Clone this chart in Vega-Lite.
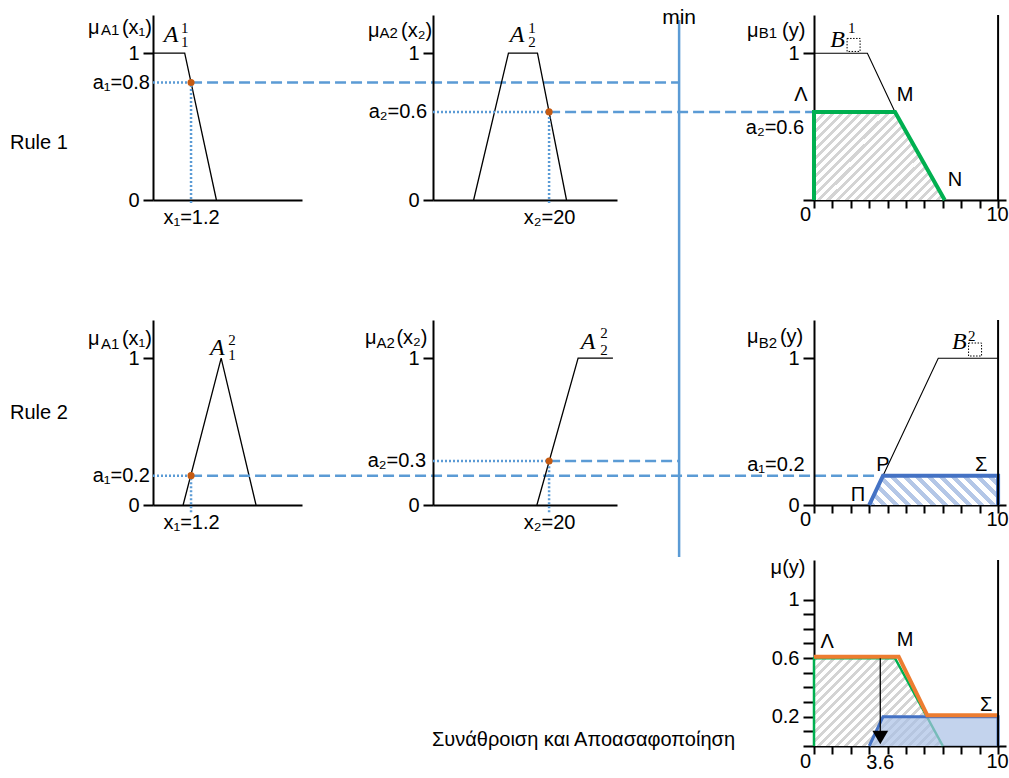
{
"$schema": "https://vega.github.io/schema/vega-lite/v6.json",
"padding": {"left": 10, "top": 6, "right": 0, "bottom": 0},
"config": {
  "view": {"stroke": null},
  "axis": {"grid": false, "domainColor": "black", "domainWidth": 2, "tickColor": "black", "tickWidth": 2, "labelColor": "black", "labelFont": "Liberation Sans", "labelFontSize": 20, "labelOverlap": false, "labelFlush": false, "labelBound": false}
},
"data": {"name": "d"},
"datasets": {"d": [
{"p":"r1a1","k":"mf","i":0,"x":0,"y":1},
{"p":"r1a1","k":"mf","i":1,"x":1.0,"y":1},
{"p":"r1a1","k":"mf","i":2,"x":2.0,"y":0},
{"p":"r1a1","k":"rule","s":"dot","x":0,"y":0.8,"x2":1.2,"y2":0.8},
{"p":"r1a1","k":"rule","s":"dot","x":1.2,"y":-0.02,"x2":1.2,"y2":0.8},
{"p":"r1a1","k":"rule","s":"dash","x":1.2,"y":0.8,"x2":16.6,"y2":0.8},
{"p":"r1a1","k":"pt","x":1.2,"y":0.8},
{"p":"r1a1","k":"txt","s":"L","t":"Rule 1","x":-4.51,"y":0.388},
{"p":"r1a1","k":"txt","s":"L","t":"μ","x":-2.05,"y":1.172},
{"p":"r1a1","k":"txt","s":"S","t":"A1","x":-1.64,"y":1.16},
{"p":"r1a1","k":"txt","s":"L","t":"(x₁)","x":-0.98,"y":1.172},
{"p":"r1a1","k":"txt","s":"R","t":"a₁=0.8","x":-0.095,"y":0.8},
{"p":"r1a1","k":"txt","s":"I","t":"A","x":0.57,"y":1.124},
{"p":"r1a1","k":"txt","s":"X","t":"1","x":0.88,"y":1.172},
{"p":"r1a1","k":"txt","s":"X","t":"1","x":0.88,"y":1.076},

{"p":"r1a2","k":"mf","i":0,"x":7,"y":0},
{"p":"r1a2","k":"mf","i":1,"x":13,"y":1},
{"p":"r1a2","k":"mf","i":2,"x":18,"y":1},
{"p":"r1a2","k":"mf","i":3,"x":23,"y":0},
{"p":"r1a2","k":"rule","s":"dot","x":0,"y":0.6,"x2":20,"y2":0.6},
{"p":"r1a2","k":"rule","s":"dot","x":20,"y":-0.02,"x2":20,"y2":0.6},
{"p":"r1a2","k":"rule","s":"dash","x":20,"y":0.6,"x2":65.6,"y2":0.6},
{"p":"r1a2","k":"rule","s":"min","x":42.4,"y":1.226,"x2":42.4,"y2":-2.432},
{"p":"r1a2","k":"pt","x":20,"y":0.6},
{"p":"r1a2","k":"txt","s":"L","t":"μ","x":-11.2,"y":1.151},
{"p":"r1a2","k":"txt","s":"S","t":"A2","x":-9.2,"y":1.139},
{"p":"r1a2","k":"txt","s":"L","t":"(x₂)","x":-5.5,"y":1.151},
{"p":"r1a2","k":"txt","s":"R","t":"a₂=0.6","x":-1.03,"y":0.6},
{"p":"r1a2","k":"txt","s":"I","t":"A","x":14.47,"y":1.124},
{"p":"r1a2","k":"txt","s":"X","t":"1","x":16.4,"y":1.172},
{"p":"r1a2","k":"txt","s":"X","t":"2","x":16.4,"y":1.076},
{"p":"r1a2","k":"txt","s":"C","t":"min","x":42.4,"y":1.24},

{"p":"r1b","k":"fill","s":"gray","x":0,"y":0.6},
{"p":"r1b","k":"fill","s":"gray","x":4.4,"y":0.6},
{"p":"r1b","k":"fill","s":"gray","x":7.1,"y":0},
{"p":"r1b","k":"mf","i":0,"x":0,"y":1},
{"p":"r1b","k":"mf","i":1,"x":2.9,"y":1},
{"p":"r1b","k":"mf","i":2,"x":4.4,"y":0.6},
{"p":"r1b","k":"cut","s":"green","i":0,"x":0,"y":0},
{"p":"r1b","k":"cut","s":"green","i":1,"x":0,"y":0.6},
{"p":"r1b","k":"cut","s":"green","i":2,"x":4.4,"y":0.6},
{"p":"r1b","k":"cut","s":"green","i":3,"x":7.1,"y":0},
{"p":"r1b","k":"edge","x":10,"y":0,"x2":10,"y2":1.26},
{"p":"r1b","k":"box","x":2.15,"y":1.056},
{"p":"r1b","k":"txt","s":"L","t":"μ","x":-3.64,"y":1.151},
{"p":"r1b","k":"txt","s":"S","t":"B1","x":-3.0,"y":1.139},
{"p":"r1b","k":"txt","s":"L","t":"(y)","x":-1.74,"y":1.151},
{"p":"r1b","k":"txt","s":"C","t":"a₂=0.6","x":-2.12,"y":0.49},
{"p":"r1b","k":"txt","s":"C","t":"Λ","x":-0.71,"y":0.715},
{"p":"r1b","k":"txt","s":"C","t":"M","x":4.95,"y":0.715},
{"p":"r1b","k":"txt","s":"C","t":"N","x":7.66,"y":0.136},
{"p":"r1b","k":"txt","s":"I","t":"B","x":1.28,"y":1.093},
{"p":"r1b","k":"txt","s":"X","t":"1","x":1.85,"y":1.17},

{"p":"r2a1","k":"mf","i":0,"x":0.95,"y":0},
{"p":"r2a1","k":"mf","i":1,"x":2.15,"y":1},
{"p":"r2a1","k":"mf","i":2,"x":3.25,"y":0},
{"p":"r2a1","k":"rule","s":"dot","x":0,"y":0.2,"x2":1.2,"y2":0.2},
{"p":"r2a1","k":"rule","s":"dot","x":1.2,"y":-0.05,"x2":1.2,"y2":0.2},
{"p":"r2a1","k":"rule","s":"dash","x":1.2,"y":0.2,"x2":22.84,"y2":0.2},
{"p":"r2a1","k":"pt","x":1.2,"y":0.2},
{"p":"r2a1","k":"txt","s":"L","t":"Rule 2","x":-4.51,"y":0.627},
{"p":"r2a1","k":"txt","s":"L","t":"μ","x":-2.05,"y":1.131},
{"p":"r2a1","k":"txt","s":"S","t":"A1","x":-1.64,"y":1.097},
{"p":"r2a1","k":"txt","s":"L","t":"(x₁)","x":-0.98,"y":1.131},
{"p":"r2a1","k":"txt","s":"R","t":"a₁=0.2","x":-0.095,"y":0.2},
{"p":"r2a1","k":"txt","s":"I","t":"A","x":2.03,"y":1.07},
{"p":"r2a1","k":"txt","s":"X","t":"2","x":2.37,"y":1.124},
{"p":"r2a1","k":"txt","s":"X","t":"1","x":2.37,"y":1.02},

{"p":"r2a2","k":"mf","i":0,"x":17.9,"y":0},
{"p":"r2a2","k":"mf","i":1,"x":25,"y":1},
{"p":"r2a2","k":"mf","i":2,"x":31,"y":1},
{"p":"r2a2","k":"rule","s":"dot","x":0,"y":0.3,"x2":20,"y2":0.3},
{"p":"r2a2","k":"rule","s":"dot","x":20,"y":-0.05,"x2":20,"y2":0.3},
{"p":"r2a2","k":"rule","s":"dash","x":20,"y":0.3,"x2":42.4,"y2":0.3},
{"p":"r2a2","k":"pt","x":20,"y":0.3},
{"p":"r2a2","k":"txt","s":"L","t":"μ","x":-11.7,"y":1.138},
{"p":"r2a2","k":"txt","s":"S","t":"A2","x":-9.75,"y":1.10},
{"p":"r2a2","k":"txt","s":"L","t":"(x₂)","x":-6.3,"y":1.138},
{"p":"r2a2","k":"txt","s":"R","t":"a₂=0.3","x":-1.2,"y":0.3},
{"p":"r2a2","k":"txt","s":"I","t":"A","x":26.7,"y":1.11},
{"p":"r2a2","k":"txt","s":"X","t":"2","x":28.8,"y":1.17},
{"p":"r2a2","k":"txt","s":"X","t":"2","x":28.8,"y":1.056},

{"p":"r2b","k":"fill","s":"blue","x":3,"y":0},
{"p":"r2b","k":"fill","s":"blue","x":3.75,"y":0.2},
{"p":"r2b","k":"fill","s":"blue","x":10,"y":0.2},
{"p":"r2b","k":"mf","i":0,"x":3,"y":0},
{"p":"r2b","k":"mf","i":1,"x":6.75,"y":1},
{"p":"r2b","k":"mf","i":2,"x":10,"y":1},
{"p":"r2b","k":"cut","s":"blue","i":0,"x":3,"y":0},
{"p":"r2b","k":"cut","s":"blue","i":1,"x":3.75,"y":0.2},
{"p":"r2b","k":"cut","s":"blue","i":2,"x":10,"y":0.2},
{"p":"r2b","k":"cut","s":"blue","i":3,"x":10,"y":0},
{"p":"r2b","k":"edge","x":10,"y":0,"x2":10,"y2":1.26},
{"p":"r2b","k":"box","x":8.75,"y":1.059},
{"p":"r2b","k":"txt","s":"L","t":"μ","x":-3.64,"y":1.144},
{"p":"r2b","k":"txt","s":"S","t":"B2","x":-3.0,"y":1.10},
{"p":"r2b","k":"txt","s":"L","t":"(y)","x":-1.85,"y":1.144},
{"p":"r2b","k":"txt","s":"C","t":"a₁=0.2","x":-2.07,"y":0.272},
{"p":"r2b","k":"txt","s":"C","t":"P","x":3.75,"y":0.272},
{"p":"r2b","k":"txt","s":"C","t":"Σ","x":9.08,"y":0.272},
{"p":"r2b","k":"txt","s":"C","t":"Π","x":2.39,"y":0.068},
{"p":"r2b","k":"txt","s":"I","t":"B","x":7.9,"y":1.107},
{"p":"r2b","k":"txt","s":"X","t":"2","x":8.37,"y":1.151},

{"p":"agg","k":"fill","s":"gray","x":0,"y":0.6},
{"p":"agg","k":"fill","s":"gray","x":4.4,"y":0.6},
{"p":"agg","k":"fill","s":"gray","x":7.0,"y":0},
{"p":"agg","k":"cut","s":"green","i":0,"x":0,"y":0},
{"p":"agg","k":"cut","s":"green","i":1,"x":0,"y":0.6},
{"p":"agg","k":"cut","s":"green","i":2,"x":4.4,"y":0.6},
{"p":"agg","k":"cut","s":"green","i":3,"x":7.0,"y":0},
{"p":"agg","k":"fill","s":"blue","x":3,"y":0},
{"p":"agg","k":"fill","s":"blue","x":3.75,"y":0.2},
{"p":"agg","k":"fill","s":"blue","x":10,"y":0.2},
{"p":"agg","k":"cut","s":"blue","i":0,"x":3,"y":0},
{"p":"agg","k":"cut","s":"blue","i":1,"x":3.75,"y":0.2},
{"p":"agg","k":"cut","s":"blue","i":2,"x":10,"y":0.2},
{"p":"agg","k":"cut","s":"blue","i":3,"x":10,"y":0},
{"p":"agg","k":"cut","s":"orange","i":0,"x":0,"y":0.61},
{"p":"agg","k":"cut","s":"orange","i":1,"x":4.6,"y":0.61},
{"p":"agg","k":"cut","s":"orange","i":2,"x":6.15,"y":0.21},
{"p":"agg","k":"cut","s":"orange","i":3,"x":9.95,"y":0.21},
{"p":"agg","k":"edge","x":10,"y":0,"x2":10,"y2":1.27},
{"p":"agg","k":"arrow","x":3.6,"y":0.6,"x2":3.6,"y2":0.1},
{"p":"agg","k":"tri","x":3.6,"y":0.058},
{"p":"agg","k":"txt","s":"C","t":"μ(y)","x":-1.41,"y":1.215},
{"p":"agg","k":"txt","s":"C","t":"Λ","x":0.71,"y":0.71},
{"p":"agg","k":"txt","s":"C","t":"M","x":4.95,"y":0.724},
{"p":"agg","k":"txt","s":"C","t":"Σ","x":9.35,"y":0.28},
{"p":"agg","k":"txt","s":"C","t":"3.6","x":3.6,"y":-0.116},
{"p":"agg","k":"txt","s":"R","t":"Συνάθροιση και Αποασαφοποίηση","x":-4.29,"y":0.041}
]},
"bounds": "flush",
"spacing": 0,
"columns": 5,
"concat": [
    {"width": 149, "height": 185,
     "transform": [{"filter": "datum.p == 'r1a1'"}],
     "encoding": {
      "x": {"field": "x", "type": "quantitative", "title": null, "scale": {"domain": [0, 4.7], "nice": false, "zero": false}, "axis": {"values": [1.2], "labelExpr": "'x₁=1.2'", "tickSize": 0, "labelPadding": 7}},
      "y": {"field": "y", "type": "quantitative", "title": null, "scale": {"domain": [0, 1.26], "nice": false}, "axis": {"values": [0, 1], "labelExpr": "datum.value == 1 ? '1' : '0'", "tickSize": 10, "labelPadding": 4}}
     },
     "layer": [
      {"transform": [{"filter": "datum.k == 'mf'"}], "mark": {"type": "line", "color": "black", "strokeWidth": 1.3}, "encoding": {"order": {"field": "i", "type": "quantitative"}}},
      {"transform": [{"filter": "datum.k == 'rule'"}], "mark": {"type": "rule", "color": "#5B9BD5", "strokeWidth": 2.5}, "encoding": {"x2": {"field": "x2"}, "y2": {"field": "y2"}, "strokeDash": {"field": "s", "type": "nominal", "scale": {"domain": ["dot", "dash", "min"], "range": [[2, 2], [11, 5], [1, 0]]}, "legend": null}}},
      {"transform": [{"filter": "datum.k == 'pt'"}], "mark": {"type": "point", "filled": true, "color": "#C55A11", "size": 50, "opacity": 1}},
      {"transform": [{"filter": "datum.k == 'txt' && datum.s == 'L'"}], "mark": {"type": "text", "align": "left", "baseline": "middle", "font": "Liberation Sans", "fontSize": 20, "color": "black"}, "encoding": {"text": {"field": "t"}}},
      {"transform": [{"filter": "datum.k == 'txt' && datum.s == 'R'"}], "mark": {"type": "text", "align": "right", "baseline": "middle", "font": "Liberation Sans", "fontSize": 20, "color": "black"}, "encoding": {"text": {"field": "t"}}},
      {"transform": [{"filter": "datum.k == 'txt' && datum.s == 'S'"}], "mark": {"type": "text", "align": "left", "baseline": "middle", "font": "Liberation Sans", "fontSize": 15, "color": "black"}, "encoding": {"text": {"field": "t"}}},
      {"transform": [{"filter": "datum.k == 'txt' && datum.s == 'I'"}], "mark": {"type": "text", "align": "center", "baseline": "middle", "font": "Liberation Serif", "fontStyle": "italic", "fontSize": 24, "color": "black"}, "encoding": {"text": {"field": "t"}}},
      {"transform": [{"filter": "datum.k == 'txt' && datum.s == 'X'"}], "mark": {"type": "text", "align": "left", "baseline": "middle", "font": "Liberation Serif", "fontSize": 15, "color": "black"}, "encoding": {"text": {"field": "t"}}}
     ]},
    {"width": 131, "height": 1, "data": {"values": [{"a": 1}]}, "mark": {"type": "text", "text": ""}},
    {"width": 184, "height": 185,
     "transform": [{"filter": "datum.p == 'r1a2'"}],
     "encoding": {
      "x": {"field": "x", "type": "quantitative", "title": null, "scale": {"domain": [0, 31.7], "nice": false, "zero": false}, "axis": {"values": [20], "labelExpr": "'x₂=20'", "tickSize": 0, "labelPadding": 7}},
      "y": {"field": "y", "type": "quantitative", "title": null, "scale": {"domain": [0, 1.26], "nice": false}, "axis": {"values": [0, 1], "labelExpr": "datum.value == 1 ? '1' : '0'", "tickSize": 10, "labelPadding": 4}}
     },
     "layer": [
      {"transform": [{"filter": "datum.k == 'mf'"}], "mark": {"type": "line", "color": "black", "strokeWidth": 1.3}, "encoding": {"order": {"field": "i", "type": "quantitative"}}},
      {"transform": [{"filter": "datum.k == 'rule'"}], "mark": {"type": "rule", "color": "#5B9BD5", "strokeWidth": 2.5}, "encoding": {"x2": {"field": "x2"}, "y2": {"field": "y2"}, "strokeDash": {"field": "s", "type": "nominal", "scale": {"domain": ["dot", "dash", "min"], "range": [[2, 2], [11, 5], [1, 0]]}, "legend": null}}},
      {"transform": [{"filter": "datum.k == 'pt'"}], "mark": {"type": "point", "filled": true, "color": "#C55A11", "size": 50, "opacity": 1}},
      {"transform": [{"filter": "datum.k == 'txt' && datum.s == 'L'"}], "mark": {"type": "text", "align": "left", "baseline": "middle", "font": "Liberation Sans", "fontSize": 20, "color": "black"}, "encoding": {"text": {"field": "t"}}},
      {"transform": [{"filter": "datum.k == 'txt' && datum.s == 'R'"}], "mark": {"type": "text", "align": "right", "baseline": "middle", "font": "Liberation Sans", "fontSize": 20, "color": "black"}, "encoding": {"text": {"field": "t"}}},
      {"transform": [{"filter": "datum.k == 'txt' && datum.s == 'C'"}], "mark": {"type": "text", "align": "center", "baseline": "middle", "font": "Liberation Sans", "fontSize": 21, "color": "black"}, "encoding": {"text": {"field": "t"}}},
      {"transform": [{"filter": "datum.k == 'txt' && datum.s == 'S'"}], "mark": {"type": "text", "align": "left", "baseline": "middle", "font": "Liberation Sans", "fontSize": 15, "color": "black"}, "encoding": {"text": {"field": "t"}}},
      {"transform": [{"filter": "datum.k == 'txt' && datum.s == 'I'"}], "mark": {"type": "text", "align": "center", "baseline": "middle", "font": "Liberation Serif", "fontStyle": "italic", "fontSize": 24, "color": "black"}, "encoding": {"text": {"field": "t"}}},
      {"transform": [{"filter": "datum.k == 'txt' && datum.s == 'X'"}], "mark": {"type": "text", "align": "left", "baseline": "middle", "font": "Liberation Serif", "fontSize": 15, "color": "black"}, "encoding": {"text": {"field": "t"}}}
     ]},
    {"width": 197, "height": 1, "data": {"values": [{"a": 1}]}, "mark": {"type": "text", "text": ""}},
   {"width": 192, "height": 185,
    "transform": [{"filter": "datum.p == 'r1b'"}],
    "encoding": {
     "x": {"field": "x", "type": "quantitative", "title": null, "scale": {"domain": [0, 10.43], "nice": false, "zero": false}, "axis": {"values": [0,1,2,3,4,5,6,7,8,9,10], "labelExpr": "datum.value == 0 ? '0' : datum.value == 10 ? '10' : ''", "tickSize": 8, "labelPadding": -4, "labelOffset": {"condition": {"test": "datum.value == 0", "value": -9}, "value": -1}}},
     "y": {"field": "y", "type": "quantitative", "title": null, "scale": {"domain": [0, 1.26], "nice": false}, "axis": {"values": [0, 1], "labelExpr": "datum.value == 1 ? '1' : ''", "tickSize": 11, "labelPadding": 4}}
    },
    "layer": [
     {"transform": [{"filter": "datum.k == 'fill'"}], "mark": {"type": "area", "opacity": 1, "fill": {"gradient": "linear", "x1": 0, "y1": 0, "x2": 1.15, "y2": 0.78, "stops": [
{"offset":0,"color":"#d4d4d4"},{"offset":0.01875,"color":"#d4d4d4"},{"offset":0.01875,"color":"#ffffff"},{"offset":0.04167,"color":"#ffffff"},
{"offset":0.04167,"color":"#d4d4d4"},{"offset":0.06042,"color":"#d4d4d4"},{"offset":0.06042,"color":"#ffffff"},{"offset":0.08333,"color":"#ffffff"},
{"offset":0.08333,"color":"#d4d4d4"},{"offset":0.10208,"color":"#d4d4d4"},{"offset":0.10208,"color":"#ffffff"},{"offset":0.125,"color":"#ffffff"},
{"offset":0.125,"color":"#d4d4d4"},{"offset":0.14375,"color":"#d4d4d4"},{"offset":0.14375,"color":"#ffffff"},{"offset":0.16667,"color":"#ffffff"},
{"offset":0.16667,"color":"#d4d4d4"},{"offset":0.18542,"color":"#d4d4d4"},{"offset":0.18542,"color":"#ffffff"},{"offset":0.20833,"color":"#ffffff"},
{"offset":0.20833,"color":"#d4d4d4"},{"offset":0.22708,"color":"#d4d4d4"},{"offset":0.22708,"color":"#ffffff"},{"offset":0.25,"color":"#ffffff"},
{"offset":0.25,"color":"#d4d4d4"},{"offset":0.26875,"color":"#d4d4d4"},{"offset":0.26875,"color":"#ffffff"},{"offset":0.29167,"color":"#ffffff"},
{"offset":0.29167,"color":"#d4d4d4"},{"offset":0.31042,"color":"#d4d4d4"},{"offset":0.31042,"color":"#ffffff"},{"offset":0.33333,"color":"#ffffff"},
{"offset":0.33333,"color":"#d4d4d4"},{"offset":0.35208,"color":"#d4d4d4"},{"offset":0.35208,"color":"#ffffff"},{"offset":0.375,"color":"#ffffff"},
{"offset":0.375,"color":"#d4d4d4"},{"offset":0.39375,"color":"#d4d4d4"},{"offset":0.39375,"color":"#ffffff"},{"offset":0.41667,"color":"#ffffff"},
{"offset":0.41667,"color":"#d4d4d4"},{"offset":0.43542,"color":"#d4d4d4"},{"offset":0.43542,"color":"#ffffff"},{"offset":0.45833,"color":"#ffffff"},
{"offset":0.45833,"color":"#d4d4d4"},{"offset":0.47708,"color":"#d4d4d4"},{"offset":0.47708,"color":"#ffffff"},{"offset":0.5,"color":"#ffffff"},
{"offset":0.5,"color":"#d4d4d4"},{"offset":0.51875,"color":"#d4d4d4"},{"offset":0.51875,"color":"#ffffff"},{"offset":0.54167,"color":"#ffffff"},
{"offset":0.54167,"color":"#d4d4d4"},{"offset":0.56042,"color":"#d4d4d4"},{"offset":0.56042,"color":"#ffffff"},{"offset":0.58333,"color":"#ffffff"},
{"offset":0.58333,"color":"#d4d4d4"},{"offset":0.60208,"color":"#d4d4d4"},{"offset":0.60208,"color":"#ffffff"},{"offset":0.625,"color":"#ffffff"},
{"offset":0.625,"color":"#d4d4d4"},{"offset":0.64375,"color":"#d4d4d4"},{"offset":0.64375,"color":"#ffffff"},{"offset":0.66667,"color":"#ffffff"},
{"offset":0.66667,"color":"#d4d4d4"},{"offset":0.68542,"color":"#d4d4d4"},{"offset":0.68542,"color":"#ffffff"},{"offset":0.70833,"color":"#ffffff"},
{"offset":0.70833,"color":"#d4d4d4"},{"offset":0.72708,"color":"#d4d4d4"},{"offset":0.72708,"color":"#ffffff"},{"offset":0.75,"color":"#ffffff"},
{"offset":0.75,"color":"#d4d4d4"},{"offset":0.76875,"color":"#d4d4d4"},{"offset":0.76875,"color":"#ffffff"},{"offset":0.79167,"color":"#ffffff"},
{"offset":0.79167,"color":"#d4d4d4"},{"offset":0.81042,"color":"#d4d4d4"},{"offset":0.81042,"color":"#ffffff"},{"offset":0.83333,"color":"#ffffff"},
{"offset":0.83333,"color":"#d4d4d4"},{"offset":0.85208,"color":"#d4d4d4"},{"offset":0.85208,"color":"#ffffff"},{"offset":0.875,"color":"#ffffff"},
{"offset":0.875,"color":"#d4d4d4"},{"offset":0.89375,"color":"#d4d4d4"},{"offset":0.89375,"color":"#ffffff"},{"offset":0.91667,"color":"#ffffff"},
{"offset":0.91667,"color":"#d4d4d4"},{"offset":0.93542,"color":"#d4d4d4"},{"offset":0.93542,"color":"#ffffff"},{"offset":0.95833,"color":"#ffffff"},
{"offset":0.95833,"color":"#d4d4d4"},{"offset":0.97708,"color":"#d4d4d4"},{"offset":0.97708,"color":"#ffffff"},{"offset":1,"color":"#ffffff"}
]}}},
     {"transform": [{"filter": "datum.k == 'mf'"}], "mark": {"type": "line", "color": "black", "strokeWidth": 1.1}, "encoding": {"order": {"field": "i", "type": "quantitative"}}},
     {"transform": [{"filter": "datum.k == 'cut'"}], "mark": {"type": "line", "color": "#00B050", "strokeWidth": 4}, "encoding": {"order": {"field": "i", "type": "quantitative"}}},
     {"transform": [{"filter": "datum.k == 'edge'"}], "mark": {"type": "rule", "color": "black", "strokeWidth": 2}, "encoding": {"x2": {"field": "x2"}, "y2": {"field": "y2"}}},
     {"transform": [{"filter": "datum.k == 'box'"}], "mark": {"type": "point", "shape": "square", "filled": false, "color": "black", "size": 169, "strokeWidth": 1, "strokeDash": [1.5, 1.5], "opacity": 1}},
     {"transform": [{"filter": "datum.k == 'txt' && datum.s == 'L'"}], "mark": {"type": "text", "align": "left", "baseline": "middle", "font": "Liberation Sans", "fontSize": 20, "color": "black"}, "encoding": {"text": {"field": "t"}}},
     {"transform": [{"filter": "datum.k == 'txt' && datum.s == 'C'"}], "mark": {"type": "text", "align": "center", "baseline": "middle", "font": "Liberation Sans", "fontSize": 20, "color": "black"}, "encoding": {"text": {"field": "t"}}},
     {"transform": [{"filter": "datum.k == 'txt' && datum.s == 'S'"}], "mark": {"type": "text", "align": "left", "baseline": "middle", "font": "Liberation Sans", "fontSize": 15, "color": "black"}, "encoding": {"text": {"field": "t"}}},
     {"transform": [{"filter": "datum.k == 'txt' && datum.s == 'I'"}], "mark": {"type": "text", "align": "center", "baseline": "middle", "font": "Liberation Serif", "fontStyle": "italic", "fontSize": 24, "color": "black"}, "encoding": {"text": {"field": "t"}}},
     {"transform": [{"filter": "datum.k == 'txt' && datum.s == 'X'"}], "mark": {"type": "text", "align": "left", "baseline": "middle", "font": "Liberation Serif", "fontSize": 15, "color": "black"}, "encoding": {"text": {"field": "t"}}}
    ]},

  {"width": 1, "height": 120, "data": {"values": [{"a": 1}]}, "mark": {"type": "text", "text": ""}},
  {"width": 1, "height": 120, "data": {"values": [{"a": 1}]}, "mark": {"type": "text", "text": ""}},
  {"width": 1, "height": 120, "data": {"values": [{"a": 1}]}, "mark": {"type": "text", "text": ""}},
  {"width": 1, "height": 120, "data": {"values": [{"a": 1}]}, "mark": {"type": "text", "text": ""}},
  {"width": 1, "height": 120, "data": {"values": [{"a": 1}]}, "mark": {"type": "text", "text": ""}},

    {"width": 149, "height": 185,
     "transform": [{"filter": "datum.p == 'r2a1'"}],
     "encoding": {
      "x": {"field": "x", "type": "quantitative", "title": null, "scale": {"domain": [0, 4.7], "nice": false, "zero": false}, "axis": {"values": [1.2], "labelExpr": "'x₁=1.2'", "tickSize": 0, "labelPadding": 7}},
      "y": {"field": "y", "type": "quantitative", "title": null, "scale": {"domain": [0, 1.26], "nice": false}, "axis": {"values": [0, 1], "labelExpr": "datum.value == 1 ? '1' : '0'", "tickSize": 10, "labelPadding": 4}}
     },
     "layer": [
      {"transform": [{"filter": "datum.k == 'mf'"}], "mark": {"type": "line", "color": "black", "strokeWidth": 1.3}, "encoding": {"order": {"field": "i", "type": "quantitative"}}},
      {"transform": [{"filter": "datum.k == 'rule'"}], "mark": {"type": "rule", "color": "#5B9BD5", "strokeWidth": 2.5}, "encoding": {"x2": {"field": "x2"}, "y2": {"field": "y2"}, "strokeDash": {"field": "s", "type": "nominal", "scale": {"domain": ["dot", "dash", "min"], "range": [[2, 2], [11, 5], [1, 0]]}, "legend": null}}},
      {"transform": [{"filter": "datum.k == 'pt'"}], "mark": {"type": "point", "filled": true, "color": "#C55A11", "size": 50, "opacity": 1}},
      {"transform": [{"filter": "datum.k == 'txt' && datum.s == 'L'"}], "mark": {"type": "text", "align": "left", "baseline": "middle", "font": "Liberation Sans", "fontSize": 20, "color": "black"}, "encoding": {"text": {"field": "t"}}},
      {"transform": [{"filter": "datum.k == 'txt' && datum.s == 'R'"}], "mark": {"type": "text", "align": "right", "baseline": "middle", "font": "Liberation Sans", "fontSize": 20, "color": "black"}, "encoding": {"text": {"field": "t"}}},
      {"transform": [{"filter": "datum.k == 'txt' && datum.s == 'S'"}], "mark": {"type": "text", "align": "left", "baseline": "middle", "font": "Liberation Sans", "fontSize": 15, "color": "black"}, "encoding": {"text": {"field": "t"}}},
      {"transform": [{"filter": "datum.k == 'txt' && datum.s == 'I'"}], "mark": {"type": "text", "align": "center", "baseline": "middle", "font": "Liberation Serif", "fontStyle": "italic", "fontSize": 24, "color": "black"}, "encoding": {"text": {"field": "t"}}},
      {"transform": [{"filter": "datum.k == 'txt' && datum.s == 'X'"}], "mark": {"type": "text", "align": "left", "baseline": "middle", "font": "Liberation Serif", "fontSize": 15, "color": "black"}, "encoding": {"text": {"field": "t"}}}
     ]},
    {"width": 131, "height": 1, "data": {"values": [{"a": 1}]}, "mark": {"type": "text", "text": ""}},
    {"width": 184, "height": 185,
     "transform": [{"filter": "datum.p == 'r2a2'"}],
     "encoding": {
      "x": {"field": "x", "type": "quantitative", "title": null, "scale": {"domain": [0, 31.7], "nice": false, "zero": false}, "axis": {"values": [20], "labelExpr": "'x₂=20'", "tickSize": 0, "labelPadding": 7}},
      "y": {"field": "y", "type": "quantitative", "title": null, "scale": {"domain": [0, 1.26], "nice": false}, "axis": {"values": [0, 1], "labelExpr": "datum.value == 1 ? '1' : '0'", "tickSize": 10, "labelPadding": 4}}
     },
     "layer": [
      {"transform": [{"filter": "datum.k == 'mf'"}], "mark": {"type": "line", "color": "black", "strokeWidth": 1.3}, "encoding": {"order": {"field": "i", "type": "quantitative"}}},
      {"transform": [{"filter": "datum.k == 'rule'"}], "mark": {"type": "rule", "color": "#5B9BD5", "strokeWidth": 2.5}, "encoding": {"x2": {"field": "x2"}, "y2": {"field": "y2"}, "strokeDash": {"field": "s", "type": "nominal", "scale": {"domain": ["dot", "dash", "min"], "range": [[2, 2], [11, 5], [1, 0]]}, "legend": null}}},
      {"transform": [{"filter": "datum.k == 'pt'"}], "mark": {"type": "point", "filled": true, "color": "#C55A11", "size": 50, "opacity": 1}},
      {"transform": [{"filter": "datum.k == 'txt' && datum.s == 'L'"}], "mark": {"type": "text", "align": "left", "baseline": "middle", "font": "Liberation Sans", "fontSize": 20, "color": "black"}, "encoding": {"text": {"field": "t"}}},
      {"transform": [{"filter": "datum.k == 'txt' && datum.s == 'R'"}], "mark": {"type": "text", "align": "right", "baseline": "middle", "font": "Liberation Sans", "fontSize": 20, "color": "black"}, "encoding": {"text": {"field": "t"}}},
      {"transform": [{"filter": "datum.k == 'txt' && datum.s == 'S'"}], "mark": {"type": "text", "align": "left", "baseline": "middle", "font": "Liberation Sans", "fontSize": 15, "color": "black"}, "encoding": {"text": {"field": "t"}}},
      {"transform": [{"filter": "datum.k == 'txt' && datum.s == 'I'"}], "mark": {"type": "text", "align": "center", "baseline": "middle", "font": "Liberation Serif", "fontStyle": "italic", "fontSize": 24, "color": "black"}, "encoding": {"text": {"field": "t"}}},
      {"transform": [{"filter": "datum.k == 'txt' && datum.s == 'X'"}], "mark": {"type": "text", "align": "left", "baseline": "middle", "font": "Liberation Serif", "fontSize": 15, "color": "black"}, "encoding": {"text": {"field": "t"}}}
     ]},
    {"width": 197, "height": 1, "data": {"values": [{"a": 1}]}, "mark": {"type": "text", "text": ""}},
   {"width": 192, "height": 185,
    "transform": [{"filter": "datum.p == 'r2b'"}],
    "encoding": {
     "x": {"field": "x", "type": "quantitative", "title": null, "scale": {"domain": [0, 10.43], "nice": false, "zero": false}, "axis": {"values": [0,1,2,3,4,5,6,7,8,9,10], "labelExpr": "datum.value == 0 ? '0' : datum.value == 10 ? '10' : ''", "tickSize": 8, "labelPadding": -4, "labelOffset": {"condition": {"test": "datum.value == 0", "value": -9}, "value": -1}}},
     "y": {"field": "y", "type": "quantitative", "title": null, "scale": {"domain": [0, 1.26], "nice": false}, "axis": {"values": [0, 1], "labelExpr": "datum.value == 1 ? '1' : '0'", "tickSize": 11, "labelPadding": 4}}
    },
    "layer": [
     {"transform": [{"filter": "datum.k == 'fill'"}], "mark": {"type": "area", "opacity": 1, "fill": {"gradient": "linear", "x1": 0, "y1": 1, "x2": 1.167, "y2": 0.734, "stops": [
{"offset":0,"color":"#b4c7e7"},{"offset":0.03846,"color":"#b4c7e7"},{"offset":0.03846,"color":"#ffffff"},{"offset":0.07692,"color":"#ffffff"},
{"offset":0.07692,"color":"#b4c7e7"},{"offset":0.11538,"color":"#b4c7e7"},{"offset":0.11538,"color":"#ffffff"},{"offset":0.15385,"color":"#ffffff"},
{"offset":0.15385,"color":"#b4c7e7"},{"offset":0.19231,"color":"#b4c7e7"},{"offset":0.19231,"color":"#ffffff"},{"offset":0.23077,"color":"#ffffff"},
{"offset":0.23077,"color":"#b4c7e7"},{"offset":0.26923,"color":"#b4c7e7"},{"offset":0.26923,"color":"#ffffff"},{"offset":0.30769,"color":"#ffffff"},
{"offset":0.30769,"color":"#b4c7e7"},{"offset":0.34615,"color":"#b4c7e7"},{"offset":0.34615,"color":"#ffffff"},{"offset":0.38462,"color":"#ffffff"},
{"offset":0.38462,"color":"#b4c7e7"},{"offset":0.42308,"color":"#b4c7e7"},{"offset":0.42308,"color":"#ffffff"},{"offset":0.46154,"color":"#ffffff"},
{"offset":0.46154,"color":"#b4c7e7"},{"offset":0.5,"color":"#b4c7e7"},{"offset":0.5,"color":"#ffffff"},{"offset":0.53846,"color":"#ffffff"},
{"offset":0.53846,"color":"#b4c7e7"},{"offset":0.57692,"color":"#b4c7e7"},{"offset":0.57692,"color":"#ffffff"},{"offset":0.61538,"color":"#ffffff"},
{"offset":0.61538,"color":"#b4c7e7"},{"offset":0.65385,"color":"#b4c7e7"},{"offset":0.65385,"color":"#ffffff"},{"offset":0.69231,"color":"#ffffff"},
{"offset":0.69231,"color":"#b4c7e7"},{"offset":0.73077,"color":"#b4c7e7"},{"offset":0.73077,"color":"#ffffff"},{"offset":0.76923,"color":"#ffffff"},
{"offset":0.76923,"color":"#b4c7e7"},{"offset":0.80769,"color":"#b4c7e7"},{"offset":0.80769,"color":"#ffffff"},{"offset":0.84615,"color":"#ffffff"},
{"offset":0.84615,"color":"#b4c7e7"},{"offset":0.88462,"color":"#b4c7e7"},{"offset":0.88462,"color":"#ffffff"},{"offset":0.92308,"color":"#ffffff"},
{"offset":0.92308,"color":"#b4c7e7"},{"offset":0.96154,"color":"#b4c7e7"},{"offset":0.96154,"color":"#ffffff"},{"offset":1,"color":"#ffffff"}
]}}},
     {"transform": [{"filter": "datum.k == 'mf'"}], "mark": {"type": "line", "color": "black", "strokeWidth": 1.1}, "encoding": {"order": {"field": "i", "type": "quantitative"}}},
     {"transform": [{"filter": "datum.k == 'cut'"}], "mark": {"type": "line", "color": "#4472C4", "strokeWidth": 4}, "encoding": {"order": {"field": "i", "type": "quantitative"}}},
     {"transform": [{"filter": "datum.k == 'edge'"}], "mark": {"type": "rule", "color": "black", "strokeWidth": 2}, "encoding": {"x2": {"field": "x2"}, "y2": {"field": "y2"}}},
     {"transform": [{"filter": "datum.k == 'box'"}], "mark": {"type": "point", "shape": "square", "filled": false, "color": "black", "size": 169, "strokeWidth": 1, "strokeDash": [1.5, 1.5], "opacity": 1}},
     {"transform": [{"filter": "datum.k == 'txt' && datum.s == 'L'"}], "mark": {"type": "text", "align": "left", "baseline": "middle", "font": "Liberation Sans", "fontSize": 20, "color": "black"}, "encoding": {"text": {"field": "t"}}},
     {"transform": [{"filter": "datum.k == 'txt' && datum.s == 'C'"}], "mark": {"type": "text", "align": "center", "baseline": "middle", "font": "Liberation Sans", "fontSize": 20, "color": "black"}, "encoding": {"text": {"field": "t"}}},
     {"transform": [{"filter": "datum.k == 'txt' && datum.s == 'S'"}], "mark": {"type": "text", "align": "left", "baseline": "middle", "font": "Liberation Sans", "fontSize": 15, "color": "black"}, "encoding": {"text": {"field": "t"}}},
     {"transform": [{"filter": "datum.k == 'txt' && datum.s == 'I'"}], "mark": {"type": "text", "align": "center", "baseline": "middle", "font": "Liberation Serif", "fontStyle": "italic", "fontSize": 24, "color": "black"}, "encoding": {"text": {"field": "t"}}},
     {"transform": [{"filter": "datum.k == 'txt' && datum.s == 'X'"}], "mark": {"type": "text", "align": "left", "baseline": "middle", "font": "Liberation Serif", "fontSize": 15, "color": "black"}, "encoding": {"text": {"field": "t"}}}
    ]},

  {"width": 1, "height": 55, "data": {"values": [{"a": 1}]}, "mark": {"type": "text", "text": ""}},
  {"width": 1, "height": 55, "data": {"values": [{"a": 1}]}, "mark": {"type": "text", "text": ""}},
  {"width": 1, "height": 55, "data": {"values": [{"a": 1}]}, "mark": {"type": "text", "text": ""}},
  {"width": 1, "height": 55, "data": {"values": [{"a": 1}]}, "mark": {"type": "text", "text": ""}},
  {"width": 1, "height": 55, "data": {"values": [{"a": 1}]}, "mark": {"type": "text", "text": ""}},

  {"width": 1, "height": 1, "data": {"values": [{"a": 1}]}, "mark": {"type": "text", "text": ""}},
  {"width": 1, "height": 1, "data": {"values": [{"a": 1}]}, "mark": {"type": "text", "text": ""}},
  {"width": 1, "height": 1, "data": {"values": [{"a": 1}]}, "mark": {"type": "text", "text": ""}},
  {"width": 1, "height": 1, "data": {"values": [{"a": 1}]}, "mark": {"type": "text", "text": ""}},
  {"width": 192, "height": 186,
   "transform": [{"filter": "datum.p == 'agg'"}],
   "encoding": {
    "x": {"field": "x", "type": "quantitative", "title": null, "scale": {"domain": [0, 10.43], "nice": false, "zero": false}, "axis": {"values": [0,1,2,3,4,5,6,7,8,9,10], "labelExpr": "datum.value == 0 ? '0' : datum.value == 10 ? '10' : ''", "tickSize": 8, "labelPadding": -3, "labelOffset": {"condition": {"test": "datum.value == 0", "value": -9}, "value": -1}}},
    "y": {"field": "y", "type": "quantitative", "title": null, "scale": {"domain": [0, 1.27], "nice": false}, "axis": {"values": [0,0.1,0.2,0.3,0.4,0.5,0.6,0.7,0.8,0.9,1], "labelExpr": "datum.value == 1 ? '1' : datum.value == 0.6 ? '0.6' : datum.value == 0.2 ? '0.2' : ''", "tickSize": 11, "labelPadding": 4}}
   },
   "layer": [
    {"transform": [{"filter": "datum.k == 'fill' && datum.s == 'gray'"}], "mark": {"type": "area", "opacity": 1, "fill": {"gradient": "linear", "x1": 0, "y1": 0, "x2": 1.15, "y2": 0.78, "stops": [
{"offset":0,"color":"#d4d4d4"},{"offset":0.01875,"color":"#d4d4d4"},{"offset":0.01875,"color":"#ffffff"},{"offset":0.04167,"color":"#ffffff"},
{"offset":0.04167,"color":"#d4d4d4"},{"offset":0.06042,"color":"#d4d4d4"},{"offset":0.06042,"color":"#ffffff"},{"offset":0.08333,"color":"#ffffff"},
{"offset":0.08333,"color":"#d4d4d4"},{"offset":0.10208,"color":"#d4d4d4"},{"offset":0.10208,"color":"#ffffff"},{"offset":0.125,"color":"#ffffff"},
{"offset":0.125,"color":"#d4d4d4"},{"offset":0.14375,"color":"#d4d4d4"},{"offset":0.14375,"color":"#ffffff"},{"offset":0.16667,"color":"#ffffff"},
{"offset":0.16667,"color":"#d4d4d4"},{"offset":0.18542,"color":"#d4d4d4"},{"offset":0.18542,"color":"#ffffff"},{"offset":0.20833,"color":"#ffffff"},
{"offset":0.20833,"color":"#d4d4d4"},{"offset":0.22708,"color":"#d4d4d4"},{"offset":0.22708,"color":"#ffffff"},{"offset":0.25,"color":"#ffffff"},
{"offset":0.25,"color":"#d4d4d4"},{"offset":0.26875,"color":"#d4d4d4"},{"offset":0.26875,"color":"#ffffff"},{"offset":0.29167,"color":"#ffffff"},
{"offset":0.29167,"color":"#d4d4d4"},{"offset":0.31042,"color":"#d4d4d4"},{"offset":0.31042,"color":"#ffffff"},{"offset":0.33333,"color":"#ffffff"},
{"offset":0.33333,"color":"#d4d4d4"},{"offset":0.35208,"color":"#d4d4d4"},{"offset":0.35208,"color":"#ffffff"},{"offset":0.375,"color":"#ffffff"},
{"offset":0.375,"color":"#d4d4d4"},{"offset":0.39375,"color":"#d4d4d4"},{"offset":0.39375,"color":"#ffffff"},{"offset":0.41667,"color":"#ffffff"},
{"offset":0.41667,"color":"#d4d4d4"},{"offset":0.43542,"color":"#d4d4d4"},{"offset":0.43542,"color":"#ffffff"},{"offset":0.45833,"color":"#ffffff"},
{"offset":0.45833,"color":"#d4d4d4"},{"offset":0.47708,"color":"#d4d4d4"},{"offset":0.47708,"color":"#ffffff"},{"offset":0.5,"color":"#ffffff"},
{"offset":0.5,"color":"#d4d4d4"},{"offset":0.51875,"color":"#d4d4d4"},{"offset":0.51875,"color":"#ffffff"},{"offset":0.54167,"color":"#ffffff"},
{"offset":0.54167,"color":"#d4d4d4"},{"offset":0.56042,"color":"#d4d4d4"},{"offset":0.56042,"color":"#ffffff"},{"offset":0.58333,"color":"#ffffff"},
{"offset":0.58333,"color":"#d4d4d4"},{"offset":0.60208,"color":"#d4d4d4"},{"offset":0.60208,"color":"#ffffff"},{"offset":0.625,"color":"#ffffff"},
{"offset":0.625,"color":"#d4d4d4"},{"offset":0.64375,"color":"#d4d4d4"},{"offset":0.64375,"color":"#ffffff"},{"offset":0.66667,"color":"#ffffff"},
{"offset":0.66667,"color":"#d4d4d4"},{"offset":0.68542,"color":"#d4d4d4"},{"offset":0.68542,"color":"#ffffff"},{"offset":0.70833,"color":"#ffffff"},
{"offset":0.70833,"color":"#d4d4d4"},{"offset":0.72708,"color":"#d4d4d4"},{"offset":0.72708,"color":"#ffffff"},{"offset":0.75,"color":"#ffffff"},
{"offset":0.75,"color":"#d4d4d4"},{"offset":0.76875,"color":"#d4d4d4"},{"offset":0.76875,"color":"#ffffff"},{"offset":0.79167,"color":"#ffffff"},
{"offset":0.79167,"color":"#d4d4d4"},{"offset":0.81042,"color":"#d4d4d4"},{"offset":0.81042,"color":"#ffffff"},{"offset":0.83333,"color":"#ffffff"},
{"offset":0.83333,"color":"#d4d4d4"},{"offset":0.85208,"color":"#d4d4d4"},{"offset":0.85208,"color":"#ffffff"},{"offset":0.875,"color":"#ffffff"},
{"offset":0.875,"color":"#d4d4d4"},{"offset":0.89375,"color":"#d4d4d4"},{"offset":0.89375,"color":"#ffffff"},{"offset":0.91667,"color":"#ffffff"},
{"offset":0.91667,"color":"#d4d4d4"},{"offset":0.93542,"color":"#d4d4d4"},{"offset":0.93542,"color":"#ffffff"},{"offset":0.95833,"color":"#ffffff"},
{"offset":0.95833,"color":"#d4d4d4"},{"offset":0.97708,"color":"#d4d4d4"},{"offset":0.97708,"color":"#ffffff"},{"offset":1,"color":"#ffffff"}
]}}},
    {"transform": [{"filter": "datum.k == 'cut' && datum.s == 'green'"}], "mark": {"type": "line", "color": "#00B050", "strokeWidth": 2.5}, "encoding": {"order": {"field": "i", "type": "quantitative"}}},
    {"transform": [{"filter": "datum.k == 'fill' && datum.s == 'blue'"}], "mark": {"type": "area", "fill": "#A9C0E6", "opacity": 0.7}},
    {"transform": [{"filter": "datum.k == 'cut' && datum.s == 'blue'"}], "mark": {"type": "line", "color": "#4472C4", "strokeWidth": 3}, "encoding": {"order": {"field": "i", "type": "quantitative"}}},
    {"transform": [{"filter": "datum.k == 'cut' && datum.s == 'orange'"}], "mark": {"type": "line", "color": "#ED7D31", "strokeWidth": 4}, "encoding": {"order": {"field": "i", "type": "quantitative"}}},
    {"transform": [{"filter": "datum.k == 'edge'"}], "mark": {"type": "rule", "color": "black", "strokeWidth": 2}, "encoding": {"x2": {"field": "x2"}, "y2": {"field": "y2"}}},
    {"transform": [{"filter": "datum.k == 'arrow'"}], "mark": {"type": "rule", "color": "black", "strokeWidth": 1.3}, "encoding": {"x2": {"field": "x2"}, "y2": {"field": "y2"}}},
    {"transform": [{"filter": "datum.k == 'tri'"}], "mark": {"type": "point", "shape": "triangle-down", "filled": true, "color": "black", "size": 250, "opacity": 1}},
    {"transform": [{"filter": "datum.k == 'txt' && datum.s == 'C'"}], "mark": {"type": "text", "align": "center", "baseline": "middle", "font": "Liberation Sans", "fontSize": 20, "color": "black"}, "encoding": {"text": {"field": "t"}}},
    {"transform": [{"filter": "datum.k == 'txt' && datum.s == 'R'"}], "mark": {"type": "text", "align": "right", "baseline": "middle", "font": "Liberation Sans", "fontSize": 20, "color": "black"}, "encoding": {"text": {"field": "t"}}}
   ]}
]
}
